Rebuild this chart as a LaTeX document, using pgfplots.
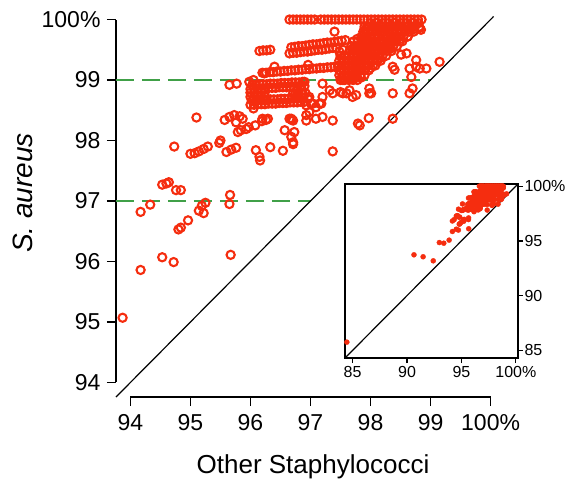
\documentclass[border=0pt]{standalone}
\usepackage{pgfplots}
\pgfplotsset{compat=1.18}
\usepackage{pgfplotstable}
\usepackage{fontspec}
\setmainfont{Liberation Sans}
\definecolor{ptred}{RGB}{245,45,15}
\definecolor{dgreen}{RGB}{64,160,72}

\pgfplotstableread{
x y
93.87 95.07
94.17 95.86
94.53 96.07
94.72 95.99
95.67 96.11
94.17 96.82
94.33 96.94
94.80 96.53
94.84 96.56
94.96 96.68
95.14 96.84
95.22 96.80
95.19 96.92
95.25 96.97
95.66 97.10
95.65 96.95
94.53 97.27
94.64 97.31
94.60 97.29
94.76 97.18
94.84 97.18
95.10 98.38
94.73 97.90
95.00 97.78
95.07 97.79
95.14 97.82
95.22 97.86
95.29 97.90
95.48 97.96
95.50 98.00
95.60 97.81
95.68 97.85
95.76 97.88
95.57 98.34
95.65 98.39
95.73 98.42
95.82 98.40
95.87 98.36
95.79 98.14
95.84 98.17
95.93 98.19
95.76 98.30
95.97 98.22
96.08 98.25
96.19 98.32
96.26 98.34
96.05 98.53
96.09 97.84
96.15 97.73
96.16 97.67
96.33 97.89
96.54 97.83
96.57 98.17
96.68 98.06
96.73 98.14
96.69 98.34
96.71 97.94
95.65 98.92
95.77 98.94
96.20 98.36
96.29 98.36
96.68 98.36
96.93 98.42
96.71 98.33
96.71 97.97
97.09 98.36
97.20 98.39
97.37 98.33
97.82 98.25
97.97 98.37
98.37 98.36
97.37 97.82
96.93 98.58
96.98 98.47
97.09 98.55
97.18 98.61
96.65 98.36
96.93 98.33
97.79 98.28
96.71 98.78
96.87 98.78
96.98 98.72
97.04 98.61
97.15 98.61
97.20 98.72
97.37 98.78
97.54 98.78
97.70 98.72
97.98 98.78
97.98 98.86
98.37 98.78
98.65 98.78
98.70 98.86
96.90 98.97
97.20 98.94
97.32 98.83
97.65 98.83
97.76 98.75
97.50 98.80
97.60 98.78
98.01 98.78
96.96 98.69
97.01 98.61
97.54 99.00
97.40 99.80
97.90 99.78
97.95 99.89
98.82 99.86
98.84 99.83
98.62 99.72
98.51 99.42
98.60 99.44
98.37 99.22
98.40 99.17
98.65 99.19
98.68 99.05
98.76 99.33
98.82 99.19
98.93 99.19
99.15 99.30
98.76 99.22
96.23 99.11
96.40 99.22
96.96 99.25
97.48 99.47
97.54 99.50
95.98 98.97
96.05 99.00
96.65 100
96.71 100
96.77 100
96.83 100
96.89 100
96.95 100
97.01 100
97.07 100
97.17 100
97.23 100
97.29 100
97.35 100
97.41 100
97.47 100
97.53 100
97.59 100
97.65 100
97.71 100
97.77 100
97.83 100
97.89 100
97.95 100
98.01 100
98.07 100
98.13 100
98.19 100
98.25 100
98.31 100
98.37 100
98.43 100
98.49 100
98.55 100
98.61 100
98.67 100
98.73 100
98.79 100
98.85 100
96.15 99.48
96.21 99.49
96.27 99.49
96.33 99.50
96.65 99.44
96.71 99.45
96.77 99.45
96.83 99.46
96.89 99.47
96.95 99.47
97.01 99.48
97.07 99.49
97.13 99.50
97.19 99.50
97.25 99.51
97.31 99.52
97.37 99.53
97.43 99.53
96.68 99.54
96.74 99.55
96.80 99.56
96.86 99.56
96.92 99.57
96.98 99.58
97.04 99.59
97.10 99.59
97.16 99.60
97.22 99.61
97.28 99.62
97.34 99.62
97.40 99.63
97.46 99.64
97.52 99.65
97.58 99.66
96.20 99.12
96.26 99.12
96.32 99.13
96.38 99.13
96.44 99.14
96.50 99.14
96.56 99.15
96.62 99.15
96.68 99.16
96.74 99.16
96.80 99.17
96.86 99.17
96.92 99.18
96.98 99.18
97.04 99.19
97.10 99.19
97.16 99.20
97.22 99.20
97.28 99.21
97.34 99.21
97.40 99.22
97.46 99.22
96.00 98.85
96.06 98.85
96.12 98.86
96.18 98.86
96.24 98.86
96.30 98.87
96.36 98.87
96.42 98.87
96.48 98.88
96.54 98.88
96.60 98.88
96.66 98.89
96.72 98.89
96.78 98.89
96.84 98.90
96.90 98.90
96.03 98.92
96.09 98.92
96.15 98.93
96.21 98.93
96.27 98.93
96.33 98.94
96.39 98.94
96.45 98.94
96.51 98.95
96.57 98.95
96.63 98.95
96.69 98.96
96.75 98.96
96.81 98.96
96.87 98.97
96.00 98.59
96.06 98.59
96.12 98.60
96.18 98.60
96.24 98.60
96.30 98.61
96.36 98.61
96.42 98.61
96.48 98.62
96.54 98.62
96.60 98.62
96.66 98.63
96.72 98.63
96.78 98.63
96.84 98.64
96.90 98.64
96.03 98.66
96.09 98.66
96.15 98.67
96.21 98.67
96.27 98.67
96.33 98.68
96.39 98.68
96.45 98.68
96.51 98.69
96.57 98.69
96.63 98.69
96.69 98.70
96.75 98.70
96.81 98.70
96.87 98.71
96.00 98.72
96.06 98.72
96.12 98.73
96.18 98.73
96.24 98.73
96.00 98.79
96.06 98.79
96.12 98.79
96.18 98.80
96.24 98.80
96.74 98.76
96.80 98.77
96.86 98.77
96.92 98.78
96.78 98.82
96.86 98.83
97.50 99.00
97.57 99.00
97.64 99.00
97.71 99.00
97.78 99.00
97.48 99.08
97.55 99.08
97.62 99.08
97.69 99.08
97.76 99.08
97.83 99.08
97.90 99.08
97.48 99.16
97.55 99.16
97.62 99.16
97.69 99.16
97.76 99.16
97.83 99.16
97.90 99.16
97.97 99.16
97.48 99.24
97.55 99.24
97.62 99.24
97.69 99.24
97.76 99.24
97.83 99.24
97.90 99.24
97.97 99.24
98.04 99.24
98.08 99.24
97.48 99.32
97.55 99.32
97.62 99.32
97.69 99.32
97.76 99.32
97.83 99.32
97.90 99.32
97.97 99.32
98.04 99.32
98.11 99.32
98.17 99.32
97.50 99.40
97.57 99.40
97.64 99.40
97.71 99.40
97.78 99.40
97.85 99.40
97.92 99.40
97.99 99.40
98.06 99.40
98.13 99.40
98.20 99.40
98.26 99.40
97.65 99.48
97.72 99.48
97.79 99.48
97.86 99.48
97.93 99.48
98.00 99.48
98.07 99.48
98.14 99.48
98.21 99.48
98.28 99.48
98.35 99.48
97.68 99.56
97.75 99.56
97.82 99.56
97.89 99.56
97.96 99.56
98.03 99.56
98.10 99.56
98.17 99.56
98.24 99.56
98.31 99.56
98.38 99.56
98.44 99.56
97.72 99.64
97.79 99.64
97.86 99.64
97.93 99.64
98.00 99.64
98.07 99.64
98.14 99.64
98.21 99.64
98.28 99.64
98.35 99.64
98.42 99.64
98.49 99.64
98.53 99.64
97.85 99.72
97.92 99.72
97.99 99.72
98.06 99.72
98.13 99.72
98.20 99.72
98.27 99.72
98.34 99.72
98.41 99.72
98.48 99.72
98.55 99.72
98.62 99.72
97.88 99.80
97.95 99.80
98.02 99.80
98.09 99.80
98.16 99.80
98.23 99.80
98.30 99.80
98.37 99.80
98.44 99.80
98.51 99.80
98.58 99.80
98.65 99.80
98.72 99.80
97.90 99.88
97.97 99.88
98.04 99.88
98.11 99.88
98.18 99.88
98.25 99.88
98.32 99.88
98.39 99.88
98.46 99.88
98.53 99.88
98.60 99.88
98.67 99.88
98.74 99.88
98.81 99.88
97.52 99.04
97.60 99.04
97.68 99.04
97.76 99.04
97.84 99.04
97.52 99.20
97.60 99.20
97.68 99.20
97.76 99.20
97.84 99.20
97.92 99.20
98.00 99.20
97.52 99.36
97.60 99.36
97.68 99.36
97.76 99.36
97.84 99.36
97.92 99.36
98.00 99.36
98.08 99.36
98.16 99.36
97.70 99.52
97.78 99.52
97.86 99.52
97.94 99.52
98.02 99.52
98.10 99.52
98.18 99.52
98.26 99.52
98.34 99.52
97.78 99.68
97.86 99.68
97.94 99.68
98.02 99.68
98.10 99.68
98.18 99.68
98.26 99.68
98.34 99.68
98.42 99.68
98.50 99.68
97.92 99.84
98.00 99.84
98.08 99.84
98.16 99.84
98.24 99.84
98.32 99.84
98.40 99.84
98.48 99.84
98.56 99.84
98.64 99.84
98.72 99.84
98.00 99.94
98.10 99.94
98.20 99.94
98.30 99.94
98.40 99.94
98.50 99.94
98.60 99.94
98.70 99.94
98.80 99.94
}\maindata

\pgfplotstableread{
x y
84.47 85.75
90.64 93.73
91.48 93.55
92.41 93.18
92.97 94.85
93.38 94.79
}\outliers

\begin{document}
\begin{tikzpicture}
\useasboundingbox (-116pt,-83pt) rectangle (452pt,397pt);
\begin{axis}[
  at={(0pt,0pt)}, anchor=south west,
  width=389pt, height=392pt, scale only axis,
  xmin=93.76, xmax=100.24, ymin=93.76, ymax=100.24,
  axis x line*=bottom, axis y line*=left,
  axis line style={draw=none},
  xtick={94,95,96,97,98,99,100}, ytick={94,95,96,97,98,99,100},
  xticklabels={94,95,96,97,98,99,100\%},
  yticklabels={94,95,96,97,98,99,100\%},
  tick align=outside, major tick length=9pt,
  tick style={black, line width=1.4pt},
  ticklabel style={font=\fontsize{23}{25}\selectfont},
  xticklabel style={yshift=-5pt},
  yticklabel style={xshift=-3pt},
  clip=false,
]
\draw[line width=1.6pt] (axis cs:93.76,94) -- (axis cs:93.76,100);
\draw[line width=1.6pt] (axis cs:94,93.76) -- (axis cs:100,93.76);
\addplot[dgreen, line width=1.6pt, dash pattern=on 18pt off 8pt] coordinates {(93.76,99) (99,99)};
\addplot[dgreen, line width=1.6pt, dash pattern=on 18pt off 8pt] coordinates {(93.76,97) (97,97)};
\addplot[black, line width=1.2pt] coordinates {(93.76,93.76) (100.05,100.05)};
\addplot[only marks, mark=o, mark size=4.1pt, ptred, line width=2.1pt] table {\maindata};
\end{axis}

\begin{axis}[
  at={(229pt,39pt)}, anchor=south west,
  width=173pt, height=174pt, scale only axis,
  xmin=84.3, xmax=100.2, ymin=84.3, ymax=100.2,
  xtick={85,90,95,100}, ytick={85,90,95,100},
  xticklabels={85,90,95,100\%}, yticklabels={85,90,95,100\%},
  xtick pos=left, ytick pos=right, yticklabel pos=right,
  tick align=outside, major tick length=5pt,
  axis line style={line width=1.4pt},
  tick style={black, line width=1.2pt},
  ticklabel style={font=\fontsize{16}{18}\selectfont},
  yticklabel style={xshift=-2pt},
  axis background/.style={fill=white},
]
\addplot[black, line width=1.2pt] coordinates {(84.3,84.3) (100.2,100.2)};
\addplot[only marks, mark=*, mark size=2.5pt, ptred, mark options={draw=ptred, fill=ptred}] table {\maindata};
\addplot[only marks, mark=*, mark size=2.5pt, ptred, mark options={draw=ptred, fill=ptred}] table {\outliers};
\end{axis}

\node[anchor=base, font=\fontsize{26}{28}\selectfont] at (197pt,-76pt) {Other Staphylococci};
\node[rotate=90, anchor=base, font=\fontsize{28}{30}\selectfont] at (-83pt,204pt) {\textit{S. aureus}};
\end{tikzpicture}
\end{document}
